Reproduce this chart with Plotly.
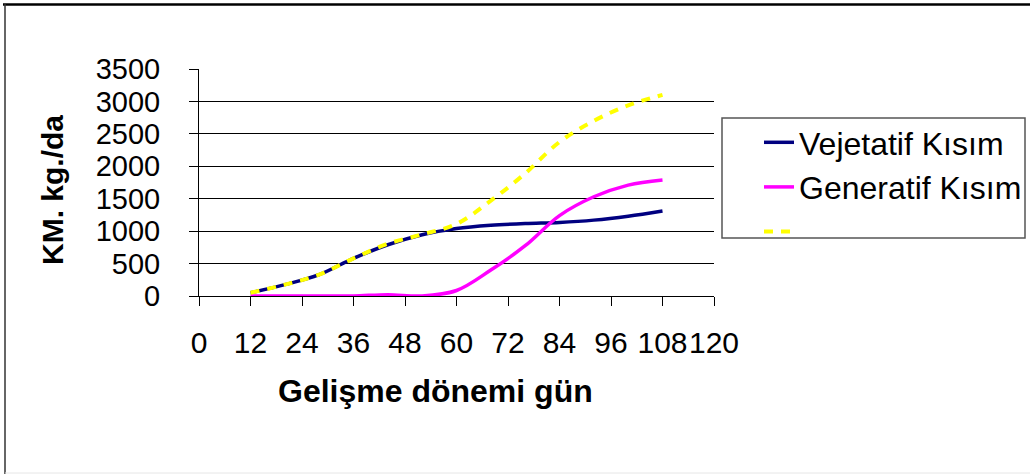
import plotly.graph_objects as go

# ---- data ----
days = [12, 20, 28, 36, 44, 52, 60, 68, 76, 84, 92, 100, 108]
vejetatif = [50, 175, 330, 580, 790, 945, 1040, 1090, 1118, 1135, 1170, 1230, 1310]
generatif = [0, 0, 0, 0, 20, 0, 85, 400, 775, 1240, 1530, 1710, 1790]
toplam = [50, 175, 330, 580, 805, 950, 1110, 1470, 1890, 2375, 2700, 2940, 3100]

series_names = ["Vejetatif Kısım", "Generatif Kısım", " "]
x_ticks = [0, 12, 24, 36, 48, 60, 72, 84, 96, 108, 120]
y_ticks = [0, 500, 1000, 1500, 2000, 2500, 3000, 3500]

FONT = "Liberation Sans, Arial, sans-serif"
W, H = 1030, 474
L, R, T, B = 199, 316, 69, 178
PW, PH = W - L - R, H - T - B


def px(x):
    return (x - L) / PW


def py(y):
    return (H - B - y) / PH


fig = go.Figure()
fig.add_trace(go.Scatter(x=days, y=vejetatif, name=series_names[0], mode="lines",
                         line=dict(color="#000080", width=3.5, shape="spline")))
fig.add_trace(go.Scatter(x=days, y=generatif, name=series_names[1], mode="lines",
                         line=dict(color="#FF00FF", width=3.5, shape="spline")))
fig.add_trace(go.Scatter(x=days, y=toplam, name=series_names[2], mode="lines",
                         line=dict(color="#FFFF00", width=4, shape="spline", dash="9px,8px")))

fig.update_layout(
    width=W, height=H, autosize=False,
    margin=dict(l=L, r=R, t=T, b=B, pad=0, autoexpand=False),
    paper_bgcolor="white", plot_bgcolor="white",
    font=dict(family=FONT, color="black"),
    showlegend=True,
    legend=dict(x=px(759), y=py(115), xanchor="left", yanchor="top",
                bgcolor="rgba(0,0,0,0)", borderwidth=0,
                font=dict(family=FONT, size=32, color="black"),
                tracegroupgap=0),
    xaxis=dict(range=[0, 120], tickmode="array", tickvals=x_ticks,
               ticktext=[str(v) for v in x_ticks], tickangle=0,
               ticks="outside", ticklen=9, tickcolor="black", tickwidth=1,
               showline=True, linecolor="black", linewidth=1,
               showgrid=False, zeroline=False,
               tickfont=dict(family=FONT, size=30, color="black"),
               ticklabelstandoff=11),
    yaxis=dict(range=[0, 3500], tickmode="array", tickvals=y_ticks,
               ticktext=[str(v) for v in y_ticks],
               ticks="outside", ticklen=9, tickcolor="black", tickwidth=1,
               showline=True, linecolor="black", linewidth=1,
               showgrid=True, gridcolor="black", gridwidth=1, zeroline=False,
               tickfont=dict(family=FONT, size=29, color="black"),
               ticklabelstandoff=23),
    annotations=[
        dict(text="<b>Gelişme dönemi gün</b>", xref="paper", yref="paper",
             x=px(435), y=py(391), xanchor="center", yanchor="middle",
             showarrow=False, font=dict(family=FONT, size=32, color="black")),
        dict(text="<b>KM. kg./da</b>", xref="paper", yref="paper",
             x=px(52), y=py(190), xanchor="center", yanchor="middle", textangle=-90,
             showarrow=False, font=dict(family=FONT, size=30, color="black")),
    ],
    shapes=[
        # legend box
        dict(type="rect", xref="paper", yref="paper",
             x0=px(722), x1=px(1025), y0=py(238), y1=py(118),
             line=dict(color="#555555", width=1.5), fillcolor="rgba(0,0,0,0)"),
        # outer frame (top and left edges)
        dict(type="line", xref="paper", yref="paper",
             x0=px(3), x1=px(1030), y0=py(4.5), y1=py(4.5),
             line=dict(color="black", width=2.5)),
        dict(type="line", xref="paper", yref="paper",
             x0=px(5), x1=px(5), y0=py(4), y1=py(474),
             line=dict(color="#333333", width=1.5)),
        dict(type="line", xref="paper", yref="paper",
             x0=px(5), x1=px(1030), y0=py(473), y1=py(473),
             line=dict(color="#e6e6e6", width=1)),
    ],
)

fig.write_html("out.html")
